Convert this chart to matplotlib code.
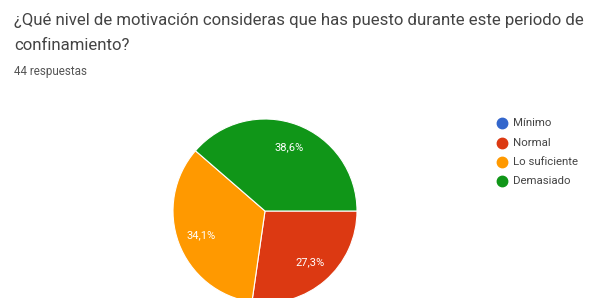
import matplotlib
matplotlib.use("Agg")
import matplotlib.pyplot as plt

title_lines = ["¿Qué nivel de motivación consideras que has puesto durante este periodo de",
               "confinamiento?"]
subtitle = "44 respuestas"
categories = ["Mínimo", "Normal", "Lo suficiente", "Demasiado"]
counts = [0, 12, 15, 17]
colors = ["#3366cc", "#dc3912", "#ff9900", "#109618"]

W, H = 597, 298
fig = plt.figure(figsize=(W / 100, H / 100), dpi=100)
fig.patch.set_facecolor("white")
plt.rcParams['font.family'] = ['Roboto', 'DejaVu Sans']

# overlay axes in pixel coordinates for text & legend
ov = fig.add_axes([0, 0, 1, 1])
ov.set_xlim(0, W)
ov.set_ylim(H, 0)
ov.axis("off")

ov.text(14, 20, title_lines[0], fontsize=12.1, color="#444444", va="center", ha="left")
ov.text(14, 45, title_lines[1], fontsize=12.1, color="#444444", va="center", ha="left")
ov.text(14, 72, subtitle, fontsize=8.4, color="#555555", va="center", ha="left")

# pie
cx, cy, r = 265, 211, 92
pax = fig.add_axes([(cx - r) / W, (H - cy - r) / H, 2 * r / W, 2 * r / H])


def fmt(p):
    if p < 0.5:
        return ""
    return f"{p:.1f}%".replace(".", ",")


wedges, texts, autotexts = pax.pie(counts, colors=colors, startangle=0, counterclock=False,
                                   autopct=fmt, pctdistance=0.74, radius=1,
                                   wedgeprops=dict(edgecolor="white", linewidth=0.8),
                                   textprops=dict(color="white", fontsize=8))
pax.set_xlim(-1, 1)
pax.set_ylim(-1, 1)
pax.set_aspect("equal")
pax.axis("off")

# legend
ys = [123, 143, 162, 181]
for lab, col, y in zip(categories, colors, ys):
    ov.plot([502], [y], marker="o", markersize=7.5, color=col, linestyle="none")
    ov.text(513, y, lab, fontsize=8.2, color="#444444", va="center", ha="left")

fig.savefig("out.png", dpi=100, facecolor="white")
